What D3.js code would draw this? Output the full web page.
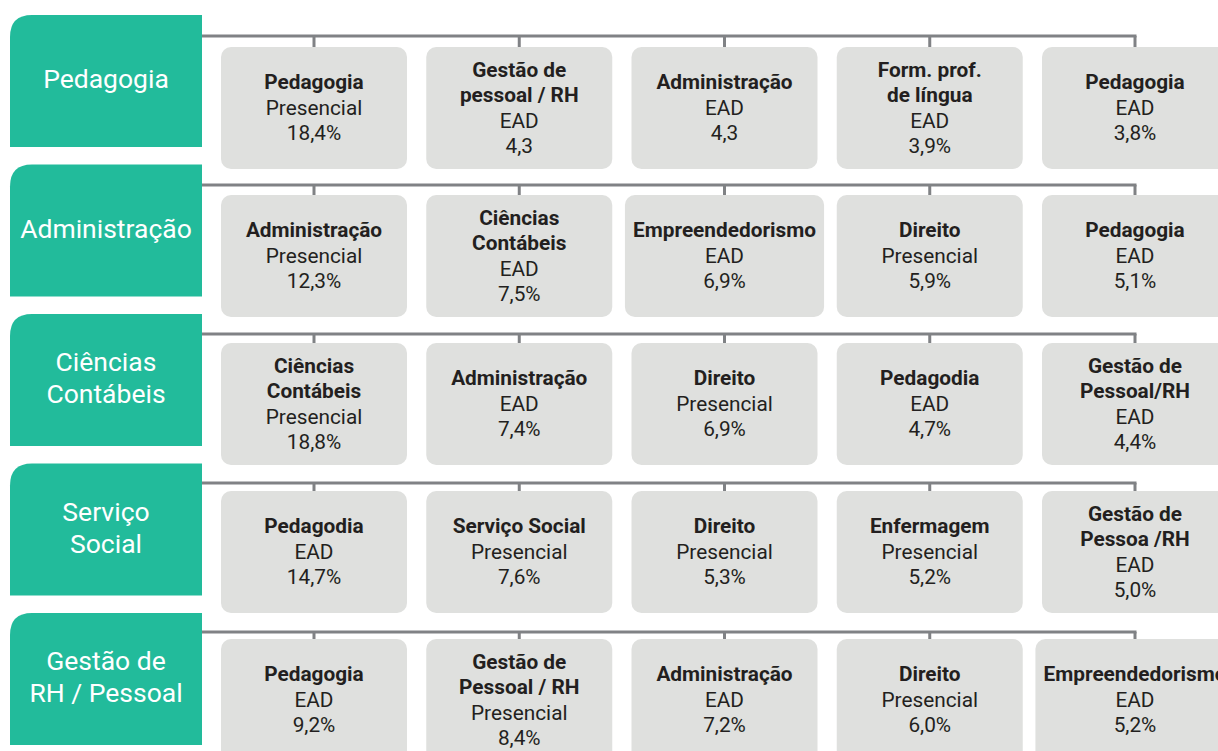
<!DOCTYPE html>
<meta charset="utf-8">
<script src="https://d3js.org/d3.v7.min.js"></script>
<style>
  body { margin: 0; background: #fff; }
  text { font-family: Roboto, "Noto Sans", sans-serif; }
</style>
<div id="my_dataviz"></div>

<script>
    // area rows (left green labels)
    const areas = ["Pedagogia", "Administração", "Ciências\nContábeis", "Serviço\nSocial", "Gestão de\nRH / Pessoal"];

    // top 5 courses per row
    const courses = [
        ["Pedagogia", "Gestão de\npessoal / RH", "Administração", "Form. prof.\nde língua", "Pedagogia"],
        ["Administração", "Ciências\nContábeis", "Empreendedorismo", "Direito", "Pedagogia"],
        ["Ciências\nContábeis", "Administração", "Direito", "Pedagodia", "Gestão de\nPessoal/RH"],
        ["Pedagodia", "Serviço Social", "Direito", "Enfermagem", "Gestão de\nPessoa /RH"],
        ["Pedagogia", "Gestão de\nPessoal / RH", "Administração", "Direito", "Empreendedorismo"]
    ];
    const modes = [
        ["Presencial", "EAD", "EAD", "EAD", "EAD"],
        ["Presencial", "EAD", "EAD", "Presencial", "EAD"],
        ["Presencial", "EAD", "Presencial", "EAD", "EAD"],
        ["EAD", "Presencial", "Presencial", "Presencial", "EAD"],
        ["EAD", "Presencial", "EAD", "Presencial", "EAD"]
    ];
    const values = [
        [18.4, 4.3, 4.3, 3.9, 3.8],
        [12.3, 7.5, 6.9, 5.9, 5.1],
        [18.8, 7.4, 6.9, 4.7, 4.4],
        [14.7, 7.6, 5.3, 5.2, 5.0],
        [9.2, 8.4, 7.2, 6.0, 5.2]
    ];
    // unit printed after the value (two boxes in the original have none)
    const units = [
        ["%", "", "", "%", "%"],
        ["%", "%", "%", "%", "%"],
        ["%", "%", "%", "%", "%"],
        ["%", "%", "%", "%", "%"],
        ["%", "%", "%", "%", "%"]
    ];

    const W = 1218, H = 751;
    const green = "#22bb9b", boxFill = "#dfe0de", lineCol = "#808285", txt = "#231f20";

    const svg = d3.select("#my_dataviz")
        .append("svg")
        .attr("width", W)
        .attr("height", H);

    // scales
    const y = d3.scaleLinear().domain([0, areas.length]).range([15, 15 + 149.5 * areas.length]);
    const yLine = d3.scaleLinear().domain([0, 1]).range([36, 185]);
    const yBox = d3.scaleLinear().domain([0, 1]).range([47, 195]);
    const x = d3.scalePoint().domain(d3.range(5)).range([314, 1135]);

    const fmt = v => d3.format(".1f")(v).replace(".", ",");

    // rounded only at top-left
    function tlRect(x0, y0, w, h, r) {
        return `M${x0},${y0 + h}V${y0 + r}Q${x0},${y0} ${x0 + r},${y0}H${x0 + w}V${y0 + h}Z`;
    }

    areas.forEach(function(area, i) {
        const top = y(i);
        const g = svg.append("g");

        // green label box
        g.append("path")
            .attr("d", tlRect(10, top, 192, 132, 22))
            .attr("fill", green);
        const lab = area.split("\n");
        g.append("text")
            .attr("text-anchor", "middle")
            .attr("fill", "#fff")
            .style("font-size", "26.5px")
            .selectAll("tspan")
            .data(lab)
            .join("tspan")
            .attr("x", 106)
            .attr("y", (d, k) => top + 64 + (k - (lab.length - 1) / 2) * 32)
            .attr("dy", "0.35em")
            .text(d => d);

        // connector line + ticks
        const ly = yLine(i);
        const boxTop = yBox(i);
        g.append("line")
            .attr("x1", 202).attr("x2", x(4) + 1.5)
            .attr("y1", ly).attr("y2", ly)
            .attr("stroke", lineCol).attr("stroke-width", 3);
        g.selectAll("line.tick")
            .data(d3.range(5))
            .join("line")
            .attr("class", "tick")
            .attr("x1", d => x(d)).attr("x2", d => x(d))
            .attr("y1", ly).attr("y2", boxTop + 1)
            .attr("stroke", lineCol).attr("stroke-width", 3);

        // course boxes
        d3.range(5).forEach(function(j) {
            const cx = x(j);
            const bg = g.append("g");
            const rect = bg.append("rect")
                .attr("y", boxTop)
                .attr("height", 122)
                .attr("rx", 10)
                .attr("fill", boxFill);

            const name = courses[i][j].split("\n");
            const lines = name.map(s => ({ t: s, b: true }))
                .concat([{ t: modes[i][j], b: false }, { t: fmt(values[i][j]) + units[i][j], b: false }]);
            const cy = boxTop + 60.5;
            const t = bg.append("text")
                .attr("text-anchor", "middle")
                .attr("fill", txt)
                .style("font-size", "20.8px");
            t.selectAll("tspan")
                .data(lines)
                .join("tspan")
                .attr("x", cx)
                .attr("y", (d, k) => cy + (k - (lines.length - 1) / 2) * 25.5)
                .attr("dy", "0.35em")
                .style("font-weight", d => d.b ? "bold" : "normal")
                .text(d => d.t);

            const tw = t.node().getBBox().width;
            const bw = Math.max(186, tw + 16);
            rect.attr("x", cx - bw / 2).attr("width", bw);
        });
    });
</script>
